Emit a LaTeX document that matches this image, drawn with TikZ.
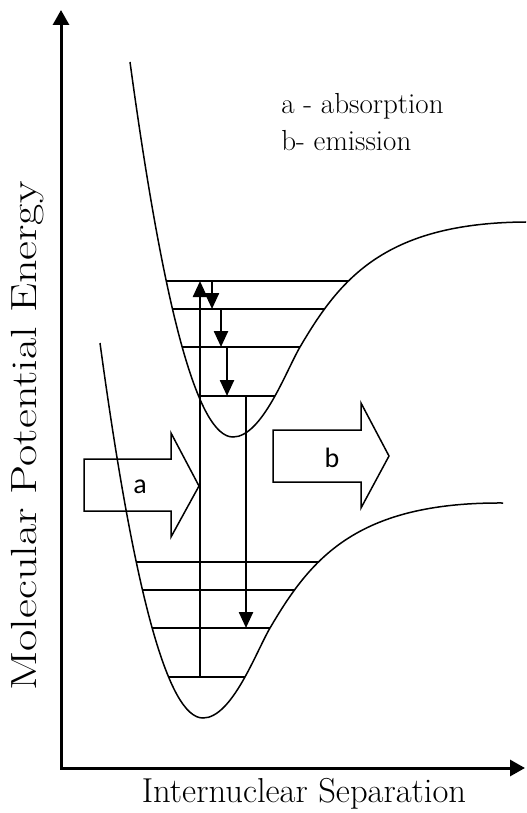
\documentclass[tikz,border=0pt]{standalone}
\usepackage{fontspec}
\newfontfamily\legendfont{Latin Modern Roman}
\newfontfamily\axisfont{Latin Modern Roman}
\newfontfamily\arrowfont{Carlito}
\usetikzlibrary{arrows.meta}
\newcommand\wellcurve{(130,62) .. controls (164,312) and (198,437) .. (233,437)
  .. controls (262,437) and (286,371) .. (300,347)
  .. controls (340,279) and (385,221) .. (533,222)}
\tikzset{
  pes/.style={line width=0.75pt},
  level/.style={line width=0.75pt},
  trans/.style={line width=1.2pt, -{Triangle[width=7pt,length=8pt]}},
  axis/.style={line width=1.5pt, {Triangle[width=8pt,length=7.5pt]}-{Triangle[width=8pt,length=7.5pt]}},
  block/.style={line width=0.75pt, line join=miter},
  legend/.style={font=\legendfont\fontsize{14.5}{17}\selectfont, inner sep=0pt, anchor=base west},
  blocklabel/.style={font=\arrowfont\fontsize{14}{16}\selectfont, inner sep=0pt},
  axislabel/.style={font=\axisfont\fontsize{17.3}{20}\selectfont, inner sep=0pt},
}

\begin{document}
\begin{tikzpicture}[x=0.5pt, y=-0.5pt]
\useasboundingbox (0,0) rectangle (526,813);
\clip (0,0) rectangle (526,813);

% axes
\coordinate (ytip) at (61,10);
\coordinate (origin) at (61,768);
\coordinate (xtip) at (525,768);
\draw[axis] (ytip) -- (origin) -- (xtip);
\node[axislabel, font=\axisfont\fontsize{18.2}{21}\selectfont, rotate=90, xscale=1.27]
  (ylab) at (28,436) {Molecular Potential Energy};
\node[axislabel] (xlab) at (304,794) {Internuclear Separation};

% excited state (upper) and ground state (lower) wells
\foreach \dx/\dy in {0/0, -30/281}{
  \begin{scope}[shift={(\dx,\dy)}]
    \draw[pes] \wellcurve;
    \begin{scope}
      \clip \wellcurve -- (533,0) -- (130,0) -- cycle;
      \foreach \lev in {281,309,347,396}
        \draw[level] (120,\lev) -- (400,\lev);
    \end{scope}
  \end{scope}
}

% transitions
\coordinate (absLo) at (200,677);
\coordinate (absHi) at (200,281);
\coordinate (relA) at (212,281);
\coordinate (relB) at (212,309);
\coordinate (relC) at (221,309);
\coordinate (relD) at (221,347);
\coordinate (relE) at (227,347);
\coordinate (relF) at (227,396);
\coordinate (emHi) at (246,396);
\coordinate (emLo) at (246,628);
\draw[trans] (absLo) -- (absHi);
\draw[trans] (relA) -- (relB);
\draw[trans] (relC) -- (relD);
\draw[trans] (relE) -- (relF);
\draw[trans] (emHi) -- (emLo);

% block arrows
\draw[block] (84,459) -- (171,459) -- (171,433) -- (199,486) -- (171,537)
  -- (171,511) -- (84,511) -- cycle;
\node[blocklabel] (alab) at (140,487) {a};
\draw[block] (273,430) -- (361,430) -- (361,403) -- (389,456) -- (361,508)
  -- (361,482) -- (273,482) -- cycle;
\node[blocklabel] (blab) at (332,458) {b};

% legend
\node[legend] (legA) at (281,113) {a - absorption};
\node[legend] (legB) at (281,150) {b- emission};
\end{tikzpicture}
\end{document}
